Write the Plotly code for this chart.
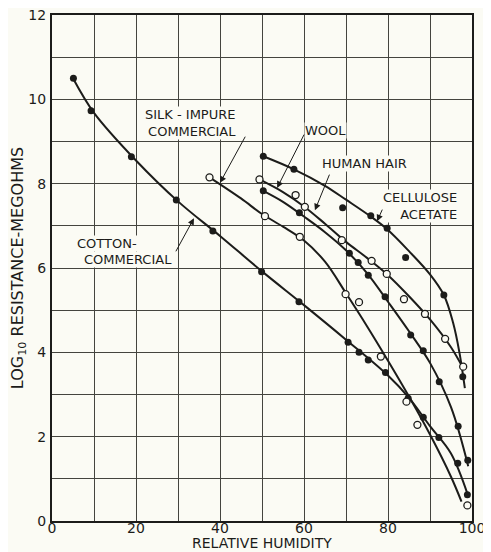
import plotly.graph_objects as go

# ---------------- data ----------------
# Measured points (markers)
cotton_x = [5.1, 9.3, 18.9, 29.6, 38.3, 49.9, 58.8, 70.5, 73.1, 75.3, 79.4, 84.8, 88.4, 92.1, 96.6, 98.9]
cotton_y = [10.5, 9.73, 8.64, 7.61, 6.88, 5.91, 5.2, 4.24, 4.0, 3.82, 3.52, 2.91, 2.46, 1.98, 1.37, 0.62]

silk_x = [37.5, 50.7, 59.0, 69.9, 73.1, 78.3, 84.4, 87.0, 98.9]
silk_y = [8.15, 7.23, 6.74, 5.38, 5.19, 3.9, 2.83, 2.28, 0.37]

wool_x = [50.3, 58.9, 70.8, 72.9, 75.3, 79.3, 85.4, 88.4, 92.2, 96.7, 99.0]
wool_y = [7.83, 7.31, 6.35, 6.13, 5.83, 5.32, 4.41, 4.04, 3.3, 2.25, 1.44]

hair_x = [49.4, 58.0, 60.2, 69.0, 76.1, 79.7, 83.8, 88.8, 93.6, 97.9]
hair_y = [8.1, 7.73, 7.45, 6.66, 6.17, 5.86, 5.26, 4.91, 4.32, 3.66]

acetate_x = [50.3, 57.6, 69.2, 75.9, 79.8, 84.2, 93.3, 97.8]
acetate_y = [8.65, 8.34, 7.43, 7.24, 6.94, 6.25, 5.36, 3.42]

# Drawn curves
cotton_line_x = [5, 10, 20, 30, 40, 50, 60, 70, 80, 85, 90, 95, 99]
cotton_line_y = [10.5, 9.68, 8.55, 7.58, 6.76, 5.92, 5.12, 4.3, 3.45, 2.92, 2.25, 1.6, 0.62]

silk_line_x = [37.5, 45, 50, 55, 60, 65, 70, 75, 80, 85, 90, 95, 97.5]
silk_line_y = [8.15, 7.65, 7.28, 6.98, 6.65, 6.15, 5.4, 4.62, 3.8, 2.95, 2.05, 1.05, 0.46]

wool_line_x = [50.3, 55, 60, 65, 70, 75, 80, 85, 90, 95, 99.1]
wool_line_y = [7.83, 7.57, 7.22, 6.85, 6.42, 5.88, 5.2, 4.5, 3.75, 2.7, 1.3]

hair_line_x = [49.4, 55, 60, 65, 70, 75, 80, 85, 90, 95, 97.9]
hair_line_y = [8.1, 7.8, 7.46, 7.05, 6.62, 6.24, 5.83, 5.33, 4.78, 4.12, 3.62]

acetate_line_x = [50.3, 57.6, 65, 70, 75.9, 79.8, 85, 90, 93.3, 95.5, 97, 98.3]
acetate_line_y = [8.65, 8.34, 7.95, 7.62, 7.22, 6.92, 6.4, 5.85, 5.36, 4.7, 4.0, 3.15]

x_ticks = [0, 10, 20, 30, 40, 50, 60, 70, 80, 90, 100]
x_tick_text = ["0", "", "20", "", "40", "", "60", "", "80", "", "100"]
y_ticks = list(range(0, 13))
y_tick_text = ["0", "", "2", "", "4", "", "6", "", "8", "", "10", "", "12"]

# ---------------- figure ----------------
INK = "#1c1c1a"
BG = "#fbfbf4"
GRID = "#44443e"
FONT = "DejaVu Sans"

fig = go.Figure()

curves = [
    (cotton_line_x, cotton_line_y),
    (silk_line_x, silk_line_y),
    (wool_line_x, wool_line_y),
    (hair_line_x, hair_line_y),
    (acetate_line_x, acetate_line_y),
]
for lx, ly in curves:
    fig.add_trace(go.Scatter(x=lx, y=ly, mode="lines",
                             line=dict(color=INK, width=2, shape="spline", smoothing=1.0),
                             hoverinfo="skip", showlegend=False))

filled = [(cotton_x, cotton_y), (wool_x, wool_y), (acetate_x, acetate_y)]
for mx, my in filled:
    fig.add_trace(go.Scatter(x=mx, y=my, mode="markers",
                             marker=dict(symbol="circle", size=7, color=INK),
                             showlegend=False))
hollow = [(silk_x, silk_y), (hair_x, hair_y)]
for mx, my in hollow:
    fig.add_trace(go.Scatter(x=mx, y=my, mode="markers",
                             marker=dict(symbol="circle", size=7, color=BG,
                                         line=dict(color=INK, width=1.3)),
                             showlegend=False))

labels = [
    ("SILK - IMPURE<br>COMMERCIAL", 33.0, 9.43, "right"),
    ("WOOL", 65.0, 9.27, "center"),
    ("HUMAN HAIR", 74.5, 8.49, "center"),
    ("CELLULOSE<br>ACETATE", 87.6, 7.48, "right"),
    ("COTTON-", 13.0, 6.59, "center"),
    ("COMMERCIAL", 18.0, 6.21, "center"),
]
annotations = []
for txt, lx, ly, al in labels:
    annotations.append(dict(x=lx, y=ly, xref="x", yref="y", text=txt, showarrow=False,
                            align=al, font=dict(family=FONT, size=13, color=INK),
                            bgcolor=BG, borderpad=0))

arrows = [
    (40.0, 8.02, 46.2, 9.15),
    (53.6, 7.9, 60.2, 9.2),
    (62.6, 7.37, 66.2, 8.25),
    (77.4, 7.11, 78.8, 7.42),
    (33.8, 7.18, 29.3, 6.36),
]
for tx, ty, sx, sy in arrows:
    annotations.append(dict(x=tx, y=ty, ax=sx, ay=sy, xref="x", yref="y",
                            axref="x", ayref="y", text="", showarrow=True,
                            arrowhead=2, arrowsize=1.3, arrowwidth=1, arrowcolor=INK,
                            standoff=0, startstandoff=0))

# x-axis title placed just under the tick labels, as in the reference
annotations.append(dict(x=0.5, y=0, xref="paper", yref="paper", yshift=-22,
                        xanchor="center", yanchor="middle", showarrow=False,
                        text="RELATIVE HUMIDITY", borderpad=0,
                        font=dict(family=FONT, size=14, color=INK)))

# the page body has an 8 px margin, so the figure is sized / offset for it
fig.update_layout(
    width=483, height=544,
    margin=dict(l=44, r=19, t=7, b=31),
    paper_bgcolor=BG, plot_bgcolor=BG,
    font=dict(family=FONT, color=INK),
    annotations=annotations,
    showlegend=False,
)
fig.update_xaxes(
    range=[0, 100], tickvals=x_ticks, ticktext=x_tick_text,
    showgrid=True, gridcolor=GRID, gridwidth=1,
    showline=True, linecolor=INK, linewidth=2, mirror=True,
    ticks="", ticklen=0, zeroline=False, tickfont=dict(family=FONT, size=14, color=INK),
    ticklabelstandoff=-7, ticklabeloverflow="allow",
    automargin=False,
)
fig.update_yaxes(
    range=[0, 12], tickvals=y_ticks, ticktext=y_tick_text,
    showgrid=True, gridcolor=GRID, gridwidth=1,
    showline=True, linecolor=INK, linewidth=2, mirror=True,
    ticks="", ticklen=0, zeroline=False, tickfont=dict(family=FONT, size=14, color=INK),
    ticklabelstandoff=1, ticklabeloverflow="allow",
    title=dict(text="LOG<sub>10</sub> RESISTANCE-MEGOHMS", font=dict(family=FONT, size=16, color=INK), standoff=8),
    automargin=False,
)

fig.write_html("out.html")
